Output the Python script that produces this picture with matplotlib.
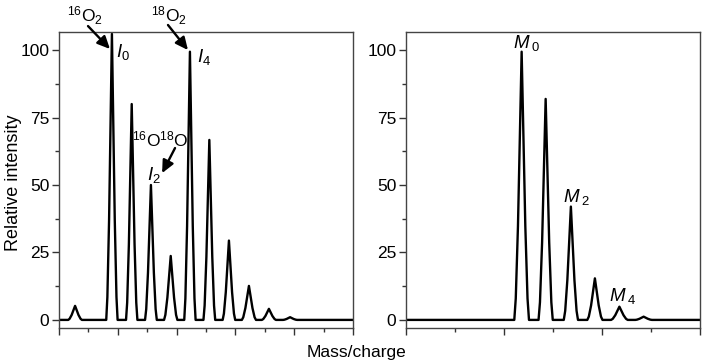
import numpy as np
import matplotlib
matplotlib.use('Agg')
import matplotlib.pyplot as plt
from matplotlib.ticker import MultipleLocator

plt.rcParams['font.family'] = ['Liberation Sans', 'DejaVu Sans']
plt.rcParams['mathtext.fontset'] = 'custom'
plt.rcParams['mathtext.rm'] = 'Liberation Sans'
plt.rcParams['mathtext.it'] = 'Liberation Sans:italic'

# left spectrum: peak centres (m/z units, spacing 1), heights, half base widths
left_centers = [0.82, 2.70, 3.71, 4.69, 5.70, 6.68, 7.67, 8.67, 9.69, 10.71, 11.79]
left_heights = [5.2, 106.0, 80.0, 50.0, 23.7, 99.4, 66.7, 29.4, 12.6, 4.1, 1.0]
left_halfw = [0.35, 0.29, 0.29, 0.30, 0.34, 0.29, 0.30, 0.32, 0.36, 0.36, 0.36]

# right spectrum
right_centers = [4.72, 5.70, 6.73, 7.71, 8.71, 9.70]
right_heights = [99.4, 81.9, 42.0, 15.4, 4.9, 1.2]
right_halfw = [0.30, 0.29, 0.29, 0.31, 0.34, 0.34]

y_ticks = [0, 25, 50, 75, 100]


def spectrum(centers, heights, halfw, xmax):
    # each peak: foot, knee, apex, knee, foot (slightly concave flanks)
    xs, ys = [0.0], [0.0]
    for c, h, w in zip(centers, heights, halfw):
        xs += [c - w, c - 0.8 * w, c - 0.5 * w, c, c + 0.5 * w, c + 0.8 * w, c + w]
        ys += [0.0, 0.08 * h, 0.35 * h, h, 0.35 * h, 0.08 * h, 0.0]
    xs.append(xmax)
    ys.append(0.0)
    return xs, ys


fig = plt.figure(figsize=(7.14, 3.64), dpi=100)
ax1 = fig.add_axes([59/714, 1-328/364, 294/714, 296/364])
ax2 = fig.add_axes([406/714, 1-328/364, 294/714, 296/364])

x, y = spectrum(left_centers, left_heights, left_halfw, 15)
ax1.plot(x, y, color='black', lw=1.7)
x, y = spectrum(right_centers, right_heights, right_halfw, 12)
ax2.plot(x, y, color='black', lw=1.7)

for ax, xmax, major in [(ax1, 15, 3), (ax2, 12, 4)]:
    ax.set_xlim(0, xmax)
    ax.set_ylim(-3, 106.7)
    ax.set_yticks(y_ticks)
    ax.yaxis.set_minor_locator(MultipleLocator(12.5))
    ax.xaxis.set_major_locator(MultipleLocator(major))
    ax.xaxis.set_minor_locator(MultipleLocator(major / 2))
    ax.set_xticklabels([])
    ax.tick_params(which='major', direction='out', length=5, width=1, labelsize=12.5,
                   color='#333333', pad=2)
    ax.tick_params(which='minor', direction='out', length=3, width=1, color='#333333')
    for s in ax.spines.values():
        s.set_color('#444444')
        s.set_linewidth(1.0)

fig.text(14/714, 1 - 183/364, 'Relative intensity', rotation=90, ha='center', va='center',
         fontsize=13)
fig.text(0.5, 1 - 352/364, 'Mass/charge', ha='center', va='center', fontsize=12.5)

arrow = dict(arrowstyle='-|>,head_length=0.75,head_width=0.35', color='black', lw=1.7,
             shrinkA=0, shrinkB=0)

# left panel annotations
ax1.text(1.35, 112.6, r'$^{16}\mathrm{O}_2$', ha='center', va='center', fontsize=12.5, clip_on=False)
ax1.annotate('', xy=(2.60, 100.4), xytext=(1.48, 108.9), arrowprops=arrow, annotation_clip=False)
ax1.text(3.27, 99.3, r'$I_0$', ha='center', va='center', fontsize=13.5)
ax1.text(5.61, 112.6, r'$^{18}\mathrm{O}_2$', ha='center', va='center', fontsize=12.5, clip_on=False)
ax1.annotate('', xy=(6.58, 100.0), xytext=(5.56, 109.3), arrowprops=arrow, annotation_clip=False)
ax1.text(7.40, 97.4, r'$I_4$', ha='center', va='center', fontsize=13.5)
ax1.text(5.15, 66.7, r'$^{16}\mathrm{O}^{18}\mathrm{O}$', ha='center', va='center', fontsize=12.5)
ax1.annotate('', xy=(5.26, 54.4), xytext=(5.92, 63.7), arrowprops=arrow)
ax1.text(4.85, 53.7, r'$I_2$', ha='center', va='center', fontsize=13.5)

# right panel annotations
ax2.text(4.94, 102.6, r'$M\,_0$', ha='center', va='center', fontsize=13.5)
ax2.text(6.94, 45.6, r'$M\,_2$', ha='center', va='center', fontsize=13.5)
ax2.text(8.86, 8.9, r'$M\,_4$', ha='center', va='center', fontsize=13.5)

fig.savefig('out.png', dpi=100)
